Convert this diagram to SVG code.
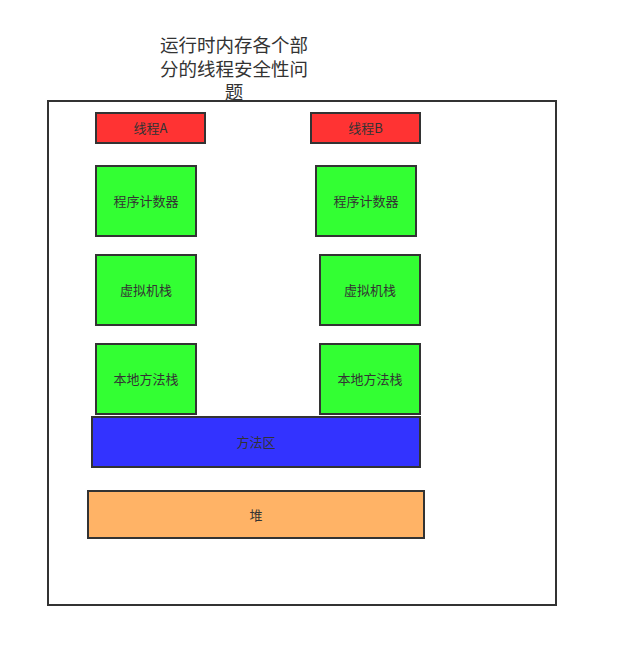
<svg xmlns="http://www.w3.org/2000/svg" width="618" height="667" viewBox="0 0 618 667">
<style>
.box{stroke:#333;stroke-width:2}
.t{font-family:"Noto Sans CJK SC","Liberation Sans",sans-serif;font-size:13px;fill:#333;text-anchor:middle;dominant-baseline:central}
.title{font-family:"Noto Sans CJK SC","Liberation Sans",sans-serif;font-size:18.5px;fill:#333;text-anchor:middle}
.red{fill:#FF3333}.green{fill:#33FF33}.blue{fill:#3333FF}.orange{fill:#FFB366}
</style>
<rect width="618" height="667" fill="#fff"/>
<g id="container"><rect x="48" y="101" width="508" height="504" fill="none" class="box"/></g>
<g id="title">
<text class="title" x="234" y="52">运行时内存各个部</text>
<text class="title" x="234" y="76">分的线程安全性问</text>
<text class="title" x="234" y="99">题</text>
</g>
<g id="threadA"><rect x="96" y="113" width="109" height="30" class="box red"/><text class="t" x="150.5" y="127">线程A</text></g>
<g id="threadB"><rect x="311" y="113" width="109" height="30" class="box red"/><text class="t" x="365.5" y="127">线程B</text></g>
<g id="pcA"><rect x="96" y="166" width="100" height="70" class="box green"/><text class="t" x="146" y="200">程序计数器</text></g>
<g id="pcB"><rect x="316" y="166" width="100" height="70" class="box green"/><text class="t" x="366" y="200">程序计数器</text></g>
<g id="vmA"><rect x="96" y="255" width="100" height="70" class="box green"/><text class="t" x="146" y="289">虚拟机栈</text></g>
<g id="vmB"><rect x="320" y="255" width="100" height="70" class="box green"/><text class="t" x="370" y="289">虚拟机栈</text></g>
<g id="nativeA"><rect x="96" y="344" width="100" height="70" class="box green"/><text class="t" x="146" y="378">本地方法栈</text></g>
<g id="nativeB"><rect x="320" y="344" width="100" height="70" class="box green"/><text class="t" x="370" y="378">本地方法栈</text></g>
<g id="methodArea"><rect x="92" y="417" width="328" height="50" class="box blue"/><text class="t" x="256" y="441">方法区</text></g>
<g id="heap"><rect x="88" y="491" width="336" height="47" class="box orange"/><text class="t" x="256" y="514">堆</text></g>
<g id="connectors"></g>
</svg>
